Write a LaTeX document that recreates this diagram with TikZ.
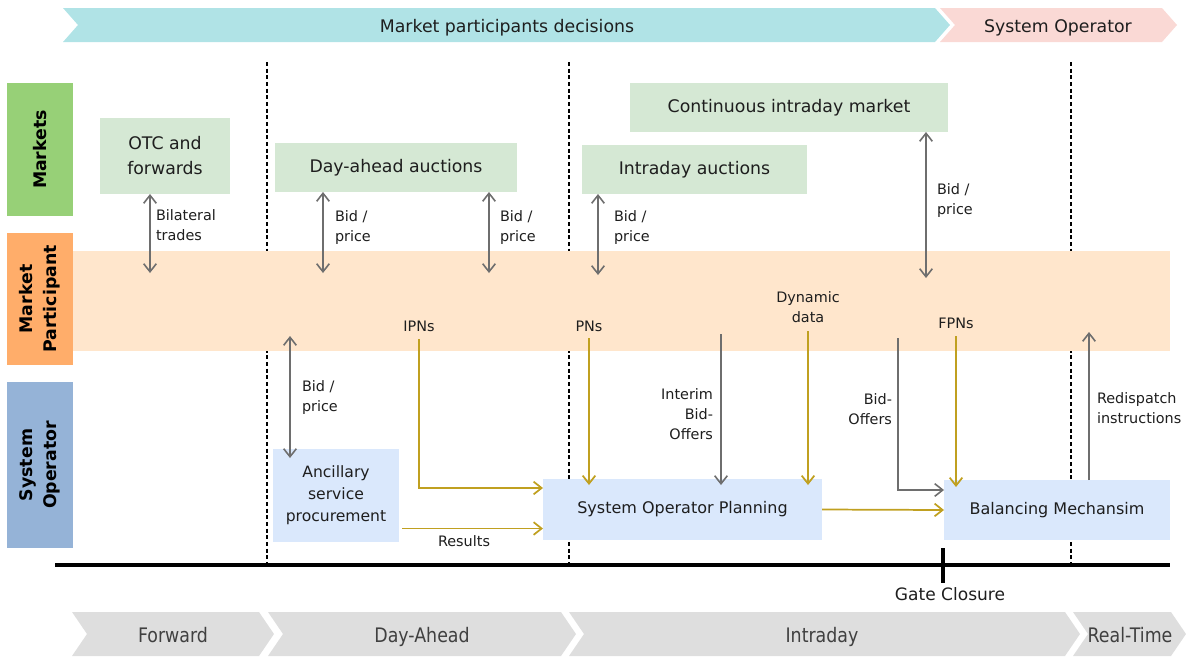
\documentclass[tikz,border=0pt]{standalone}
\usepackage{graphicx}
\usepackage{fontspec}
\setmainfont{DejaVu Sans}
\newfontfamily\condfont{DejaVu Sans}[FakeStretch=0.87]
\usetikzlibrary{arrows.meta,calc}

\definecolor{ink}{HTML}{1E1E1E}
\definecolor{phasegray}{HTML}{404040}
\definecolor{topcyan}{HTML}{B0E3E6}
\definecolor{toppink}{HTML}{FAD9D5}
\definecolor{chevgray}{HTML}{DEDEDE}
\definecolor{sidegreen}{HTML}{97D077}
\definecolor{sideorange}{HTML}{FFAD6A}
\definecolor{sideblue}{HTML}{95B3D7}
\definecolor{peach}{HTML}{FFE6CC}
\definecolor{mktgreen}{HTML}{D5E8D4}
\definecolor{soblue}{HTML}{DAE8FC}
\definecolor{arrowgray}{HTML}{6E6E6E}
\definecolor{gold}{HTML}{C0A020}

\tikzset{
  every node/.style={inner sep=0pt, outer sep=0pt, text=ink},
  bigtxt/.style={font=\fontsize{13}{18.75}\selectfont},
  midtxt/.style={font=\fontsize{12}{16.5}\selectfont},
  smalltxt/.style={font=\fontsize{10.8}{15}\selectfont},
  sidebox/.style={font=\fontsize{13}{18}\selectfont\bfseries, text=black},
  mktbox/.style={fill=mktgreen, align=center, bigtxt},
  sobox/.style={fill=soblue, align=center, midtxt},
  phaselabel/.style={font=\condfont\fontsize{15}{18}\selectfont, text=phasegray, anchor=base},
  biarrow/.style={draw=arrowgray, line width=1.2pt, {Straight Barb[length=6pt,width=9.5pt]}-{Straight Barb[length=6pt,width=9.5pt]}},
  garrow/.style={draw=arrowgray, line width=1.2pt, -{Straight Barb[length=6pt,width=9.5pt]}},
  yarrow/.style={draw=gold, line width=1.3pt, -{Straight Barb[length=6pt,width=9.5pt]}},
  phaseline/.style={draw=black, line width=1.1pt, dash pattern=on 3pt off 2pt},
  timeline/.style={draw=black, line width=2.3pt},
}

\begin{document}
\begin{tikzpicture}[x=0.75pt, y=-0.75pt]
\useasboundingbox (0,0) rectangle (1186,658);

% ---- top banner ----
\fill[topcyan] (63,8) -- (935,8) -- (950,25) -- (935,42) -- (63,42) -- (78,25) -- cycle;
\fill[toppink] (940,8) -- (1162,8) -- (1177,25) -- (1162,42) -- (940,42) -- (955,25) -- cycle;
\node[bigtxt, anchor=base] (mpd) at (507,32) {Market participants decisions};
\node[bigtxt, anchor=base] (sotop) at (1058,32) {System Operator};

% ---- bottom phases ----
\fill[chevgray] (72,612) -- (259,612) -- (274,634) -- (259,656) -- (72,656) -- (87,634) -- cycle;
\fill[chevgray] (268,612) -- (561,612) -- (576,634) -- (561,656) -- (268,656) -- (283,634) -- cycle;
\fill[chevgray] (569,612) -- (1065,612) -- (1080,634) -- (1065,656) -- (569,656) -- (584,634) -- cycle;
\fill[chevgray] (1073,612) -- (1171,612) -- (1186,634) -- (1171,656) -- (1073,656) -- (1088,634) -- cycle;
\node[phaselabel] (pfwd) at (173,642) {Forward};
\node[phaselabel] (pda) at (422,642) {Day-Ahead};
\node[phaselabel] (pid) at (822,642) {Intraday};
\node[phaselabel] (prt) at (1130,642) {Real-Time};

% ---- phase separators ----
\draw[phaseline] (267,62) -- (267,565);
\draw[phaseline] (569,62) -- (569,565);
\draw[phaseline] (1071,62) -- (1071,565);

% ---- participant band ----
\node[fill=peach, minimum width=822.75pt, minimum height=75pt] (band) at (621.5,301) {};

% ---- row labels ----
\node[fill=sidegreen, minimum width=49.5pt, minimum height=99.75pt, sidebox] (rmkt) at (40,149.5)
  {\rotatebox{90}{Markets}};
\node[fill=sideorange, minimum width=49.5pt, minimum height=99pt, sidebox] (rmp) at (40,299)
  {\rotatebox{90}{\begin{tabular}{@{}c@{}}Market\\Participant\end{tabular}}};
\node[fill=sideblue, minimum width=49.5pt, minimum height=124.5pt, sidebox] (rso) at (40,465)
  {\rotatebox{90}{\begin{tabular}{@{}c@{}}System\\Operator\end{tabular}}};

% ---- markets ----
\node[mktbox, minimum width=97.5pt, minimum height=57pt] (otc) at (165,156) {OTC and\\forwards};
\node[mktbox, minimum width=181.5pt, minimum height=36.75pt] (dam) at (396,167.5) {Day-ahead auctions};
\node[mktbox, minimum width=168.75pt, minimum height=36.75pt] (ida) at (694.5,169.5) {Intraday auctions};
\node[mktbox, minimum width=238.5pt, minimum height=36.75pt] (cim) at (789,107.5) {Continuous intraday market};

% ---- system operator processes ----
\node[sobox, minimum width=94.5pt, minimum height=69.75pt, font=\fontsize{11.7}{16.5}\selectfont] (anc) at (336,495.5)
  {Ancillary\\service\\procurement};
\node[sobox, minimum width=209.25pt, minimum height=45.75pt] (sop) at (682.5,509.5) {System Operator Planning};
\node[sobox, minimum width=169.5pt, minimum height=45pt] (bm) at (1057,510) {Balancing Mechansim};

% ---- market trades ----
\coordinate (bil) at (150,273);
\draw[biarrow] (bil |- otc.south) -- (bil);
\node[smalltxt, align=left, anchor=west] (lbil) at (156,225.5) {Bilateral\\trades};

\coordinate (dab1) at (323,273);
\draw[biarrow] (dab1 |- dam.south) -- (dab1);
\node[smalltxt, align=left, anchor=west] (ldab1) at (335,228) {Bid /\\price};

\coordinate (dab2) at (489,273);
\draw[biarrow] (dab2 |- dam.south) -- (dab2);
\node[smalltxt, align=left, anchor=west] (ldab2) at (500,228) {Bid /\\price};

\coordinate (idb) at (598,275);
\draw[biarrow] (idb |- ida.south) -- (idb);
\node[smalltxt, align=left, anchor=west] (lidb) at (614,228) {Bid /\\price};

\coordinate (cib) at (926,278);
\draw[biarrow] (cib |- cim.south) -- (cib);
\node[smalltxt, align=left, anchor=west] (lcib) at (937,200.5) {Bid /\\price};

\coordinate (asb) at (290,336);
\draw[biarrow] (asb) -- ($(asb |- anc.north)+(0,9)$);
\node[smalltxt, align=left, anchor=west] (lasb) at (302,398) {Bid /\\price};

% ---- notifications to the system operator ----
\node[smalltxt] (ipns) at (419,326) {IPNs};
\draw[yarrow, shorten <=6pt] (ipns.south) |- ($(sop.north west)+(0,9)$);

\coordinate (res) at ($(anc.east)+(3,33)$);
\draw[yarrow] (res) -- (res -| sop.west);
\node[smalltxt] (lres) at (464,541) {Results};

\node[smalltxt] (pns) at (589,326) {PNs};
\draw[yarrow, shorten <=5pt] (pns.south) -- ($(pns.south |- sop.north)+(0,6)$);

\node[smalltxt, align=center] (dyn) at (808,307.5) {Dynamic\\data};
\draw[yarrow, shorten <=6pt] (dyn.south) -- ($(dyn.south |- sop.north)+(0,6)$);

\coordinate (ibo) at (721,334);
\draw[garrow] (ibo) -- ($(ibo |- sop.north)+(0,6)$);
\node[smalltxt, align=right, anchor=east] (libo) at (713,414) {Interim\\Bid-\\Offers};

\node[smalltxt] (fpns) at (956,323) {FPNs};
\draw[yarrow, shorten <=6pt] (fpns.south) -- ($(fpns.south |- bm.north)+(0,7)$);

\coordinate (bo) at (898,338);
\draw[garrow] (bo) |- ($(bm.north west)+(0,10)$);
\node[smalltxt, align=right, anchor=east] (lbo) at (892,409) {Bid-\\Offers};

\draw[yarrow] (sop.east) -- (bm.west);

\coordinate (rdi) at (1089,332);
\draw[garrow] (rdi |- bm.north) -- (rdi);
\node[smalltxt, align=left, anchor=west] (lrdi) at (1097,408.5) {Redispatch\\instructions};

% ---- time axis ----
\coordinate (t0) at (55,565);
\coordinate (t1) at (1170,565);
\draw[timeline] (t0) -- (t1);
\coordinate (gc) at (943,565);
\draw[timeline] ($(gc)+(0,-17)$) -- ($(gc)+(0,18)$);
\node[font=\fontsize{12.8}{15}\selectfont, anchor=base] (lgc) at (950,600) {Gate Closure};
\end{tikzpicture}
\end{document}
